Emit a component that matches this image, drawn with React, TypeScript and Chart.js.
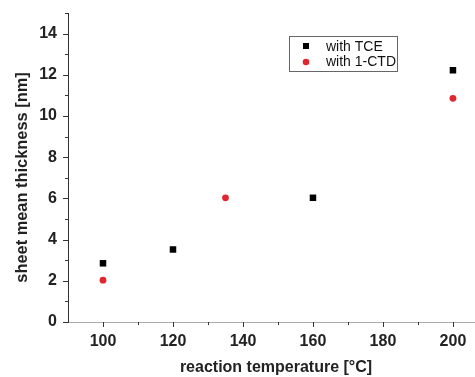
import React, { useEffect, useRef } from "react";
import { Chart, registerables } from "chart.js";

Chart.register(...registerables);

const tceTemps = [100, 120, 160, 200];
const tceThickness = [2.85, 3.52, 6.03, 12.22];
const ctdTemps = [100, 135, 200];
const ctdThickness = [2.03, 6.03, 10.86];
const xTickValues = [100, 120, 140, 160, 180, 200];
const yTickValues = [0, 2, 4, 6, 8, 10, 12, 14];
const seriesLabels = ["with TCE", "with 1-CTD"];
const xTitle = "reaction temperature [°C]";
const yTitle = "sheet mean thickness [nm]";

const FONT = "'Liberation Sans', Arial, sans-serif";

const tickPlugin = {
  id: "customTicks",
  afterDraw(chart: any) {
    const ctx = chart.ctx;
    const xs = chart.scales.x;
    const ys = chart.scales.y;
    const area = chart.chartArea;
    ctx.save();
    ctx.strokeStyle = "#333";
    ctx.lineWidth = 1;
    for (let v = 0; v <= ys.max; v += 1) {
      const y = Math.round(ys.getPixelForValue(v)) + 0.5;
      const len = v % 2 === 0 ? 5 : 3;
      ctx.beginPath();
      ctx.moveTo(area.left - len, y);
      ctx.lineTo(area.left, y);
      ctx.stroke();
    }
    for (let v = 100; v <= xs.max; v += 10) {
      const x = Math.round(xs.getPixelForValue(v)) + 0.5;
      const len = v % 20 === 0 ? 5 : 3;
      ctx.beginPath();
      ctx.moveTo(x, area.bottom);
      ctx.lineTo(x, area.bottom + len);
      ctx.stroke();
    }
    // axis titles
    ctx.fillStyle = "#222";
    ctx.textAlign = "center";
    ctx.textBaseline = "middle";
    ctx.font = `bold 16px ${FONT}`;
    ctx.fillText(xTitle, 276, 368);
    ctx.save();
    ctx.translate(22, 177.5);
    ctx.rotate(-Math.PI / 2);
    ctx.font = `bold 16.4px ${FONT}`;
    ctx.fillText(yTitle, 0, 0);
    ctx.restore();
    // legend box
    const bx = 289.5, by = 36.5, bw = 108, bh = 35;
    ctx.strokeStyle = "#666";
    ctx.strokeRect(bx, by, bw, bh);
    ctx.font = `14px ${FONT}`;
    ctx.fillStyle = "#111";
    ctx.textAlign = "left";
    ctx.fillText(seriesLabels[0], 326, 47);
    ctx.fillText(seriesLabels[1], 326, 62);
    ctx.fillStyle = "#000";
    ctx.fillRect(303, 43, 6, 6);
    ctx.fillStyle = "#e0262e";
    ctx.beginPath();
    ctx.arc(306, 62, 3.3, 0, Math.PI * 2);
    ctx.fill();
    ctx.restore();
  },
};

const zeroPad = (s: any) => {
  s.paddingTop = 0;
  s.paddingBottom = 0;
  s.paddingLeft = 0;
  s.paddingRight = 0;
};

export default function App() {
  const ref = useRef<HTMLCanvasElement>(null);
  useEffect(() => {
    document.body.style.margin = "0";
    const chart = new Chart(ref.current as HTMLCanvasElement, {
      type: "scatter",
      data: {
        datasets: [
          {
            label: seriesLabels[0],
            data: tceTemps.map((t, i) => ({ x: t, y: tceThickness[i] })),
            pointStyle: "rect",
            pointRadius: 4.6,
            backgroundColor: "#000",
            borderColor: "#000",
            borderWidth: 0,
          },
          {
            label: seriesLabels[1],
            data: ctdTemps.map((t, i) => ({ x: t, y: ctdThickness[i] })),
            pointStyle: "circle",
            pointRadius: 3.4,
            backgroundColor: "#e0262e",
            borderColor: "#e0262e",
            borderWidth: 0,
          },
        ],
      },
      options: {
        animation: false,
        responsive: false,
        layout: { autoPadding: false, padding: { top: 13, right: 0, left: 0, bottom: 0 } },
        plugins: { legend: { display: false }, tooltip: { enabled: false } },
        scales: {
          x: {
            type: "linear",
            min: 90,
            max: 206.3,
            afterBuildTicks: (s: any) => {
              s.ticks = xTickValues.map((v) => ({ value: v }));
            },
            afterFit: (s: any) => {
              s.height = 55;
              zeroPad(s);
            },
            grid: { display: true, drawOnChartArea: false, drawTicks: false },
            border: { display: true, color: "#aaa", width: 1 },
            ticks: {
              padding: 10,
              color: "#222",
              maxRotation: 0,
              font: { family: FONT, size: 16, weight: "bold" },
            },
          },
          y: {
            type: "linear",
            min: 0,
            max: 15,
            afterBuildTicks: (s: any) => {
              s.ticks = yTickValues.map((v) => ({ value: v }));
            },
            afterFit: (s: any) => {
              s.width = 68;
              zeroPad(s);
            },
            grid: { display: true, drawOnChartArea: false, drawTicks: false },
            border: { display: true, color: "#333", width: 1 },
            ticks: {
              padding: 11,
              color: "#222",
              font: { family: FONT, size: 16, weight: "bold" },
            },
          },
        },
      },
      plugins: [tickPlugin],
    });
    return () => chart.destroy();
  }, []);
  return (
    <div style={{ position: "fixed", left: 0, top: 0, width: 475, height: 377, background: "#fff" }}>
      <canvas ref={ref} width={475} height={377} />
    </div>
  );
}
